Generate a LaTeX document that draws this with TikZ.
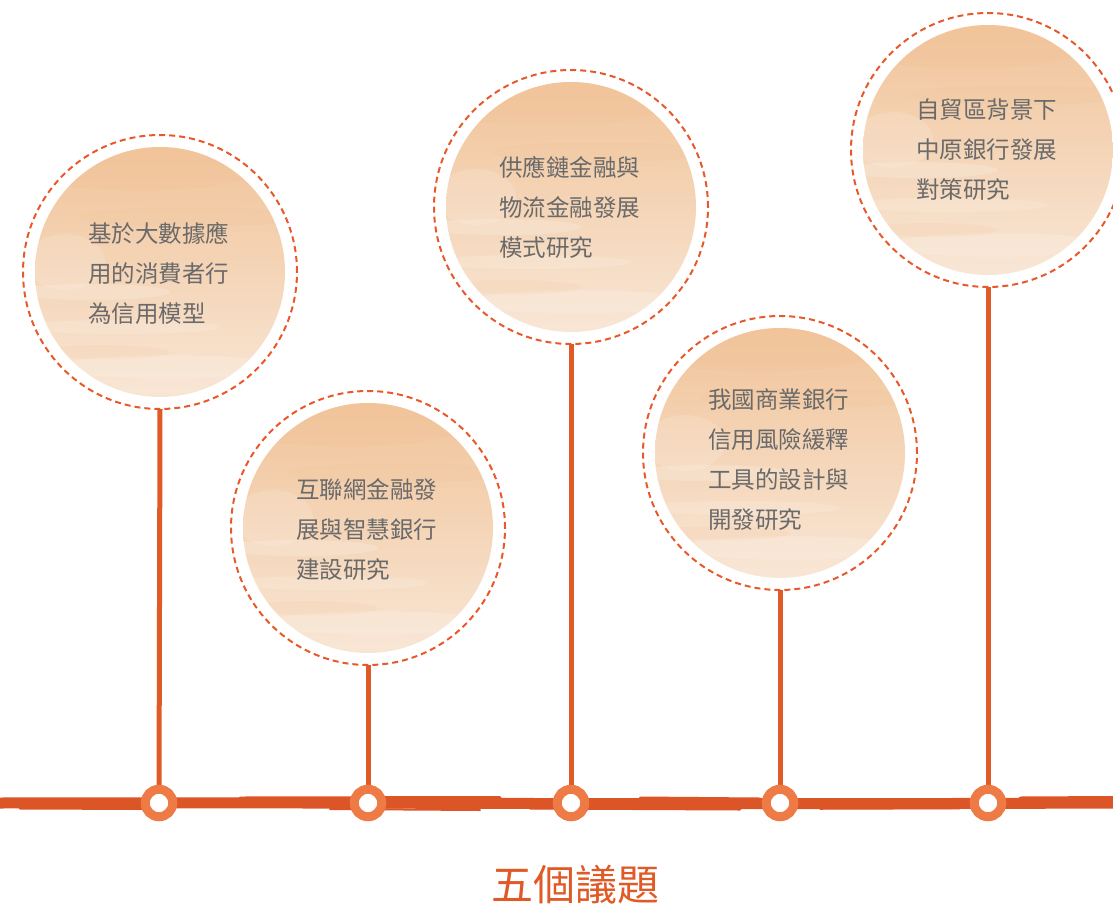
\documentclass[tikz,border=0pt]{standalone}
\usepackage{fontspec}
\newfontfamily\cjk{Noto Sans CJK TC}
\definecolor{lineor}{HTML}{E05A28}
\definecolor{baseor}{HTML}{DC5526}
\definecolor{ringor}{HTML}{EE7B45}
\definecolor{dashor}{HTML}{E8582A}
\definecolor{txtgray}{HTML}{6A6A6A}
\definecolor{peachD}{HTML}{F1C49A}
\definecolor{peachM}{HTML}{F6DBC0}
\definecolor{peachL}{HTML}{F8E6D5}
\newcommand{\washfill}[2]{%
  \begin{scope}[shift={(#1,#2)}]
    \clip (0,0) circle (125);
    \shade[top color=peachD, middle color=peachM, bottom color=peachL] (-125,-125) rectangle (125,125);
    \fill[peachD, opacity=0.25] (-20,-105) ellipse (120 and 24);
    \fill[white, opacity=0.18] (-70,20) ellipse (80 and 8);
    \fill[white, opacity=0.15] (-40,55) ellipse (100 and 7);
    \fill[peachD, opacity=0.18] (30,-55) ellipse (110 and 10);
    \fill[white, opacity=0.15] (10,95) ellipse (110 and 12);
    \fill[peachD, opacity=0.15] (-60,80) ellipse (70 and 7);
    \fill[white, opacity=0.15] (-95,-10) ellipse (40 and 28);
  \end{scope}}
\tikzset{
  topic/.style={circle, draw=dashor, line width=2pt, dash pattern=on 6pt off 4pt, minimum size=274pt, inner sep=0pt, outer sep=0pt},
  stem/.style={draw=lineor, line width=5pt},
  ring/.style={circle, draw=ringor, line width=9pt, fill=white, minimum size=27.5pt, inner sep=0pt, outer sep=0pt},
  label/.style={anchor=west, align=left, inner sep=0pt, text=txtgray, font=\cjk\fontsize{23.5pt}{40pt}\selectfont},
  brush/.style={draw=baseor, line cap=round},
}
\begin{document}
\begin{tikzpicture}[x=1pt,y=-1pt]
\useasboundingbox (0,0) rectangle (1113,907);
% textured discs
\washfill{160}{272}
\washfill{368}{528}
\washfill{571}{207}
\washfill{780}{453}
\washfill{988}{150}
% dashed outlines
\node[topic] (c1) at (160,272) {};
\node[topic] (c2) at (368,528) {};
\node[topic] (c3) at (571,207) {};
\node[topic] (c4) at (780,453) {};
\node[topic] (c5) at (988,150) {};
% ring positions
\coordinate (r1p) at (159,803);
\coordinate (r2p) at (368,803);
\coordinate (r3p) at (571,803);
\coordinate (r4p) at (780,803);
\coordinate (r5p) at (988,803);
% stems
\draw[stem] (c1.south) -- (r1p);
\draw[stem] (c2.south) -- (r2p);
\draw[stem] (c3.south) -- (r3p);
\draw[stem] (c4.south) -- (r4p);
\draw[stem] (c5.south) -- (r5p);
% brush baseline
\coordinate (bl) at (0,803);
\coordinate (br) at (1113,803);
\draw[baseor, line width=11pt] (bl) .. controls (300,802) and (600,805) .. (br);
\draw[brush, line width=3pt] (20,808) -- (150,808.5);
\draw[brush, line width=3pt] (240,798) -- (500,797.5);
\draw[brush, line width=2pt] (330,809) -- (480,810);
\draw[brush, line width=3pt] (530,808) -- (740,809);
\draw[brush, line width=2pt] (640,797.5) -- (760,798.5);
\draw[brush, line width=2.5pt] (820,808.5) -- (960,808);
\draw[brush, line width=3pt] (1020,798) -- (1113,797.5);
% rings
\node[ring] (r1) at (r1p) {};
\node[ring] (r2) at (r2p) {};
\node[ring] (r3) at (r3p) {};
\node[ring] (r4) at (r4p) {};
\node[ring] (r5) at (r5p) {};
% labels
\node[label] (t1) at (88,273) {基於大數據應\\用的消費者行\\為信用模型};
\node[label] (t2) at (296,530) {互聯網金融發\\展與智慧銀行\\建設研究};
\node[label] (t3) at (499,207) {供應鏈金融與\\物流金融發展\\模式研究};
\node[label] (t4) at (708,460) {我國商業銀行\\信用風險緩釋\\工具的設計與\\開發研究};
\node[label] (t5) at (916,150) {自貿區背景下\\中原銀行發展\\對策研究};
\node[text=lineor, font=\cjk\fontsize{42pt}{50pt}\selectfont, inner sep=0pt] (title) at (575,885) {五個議題};
\end{tikzpicture}
\end{document}
